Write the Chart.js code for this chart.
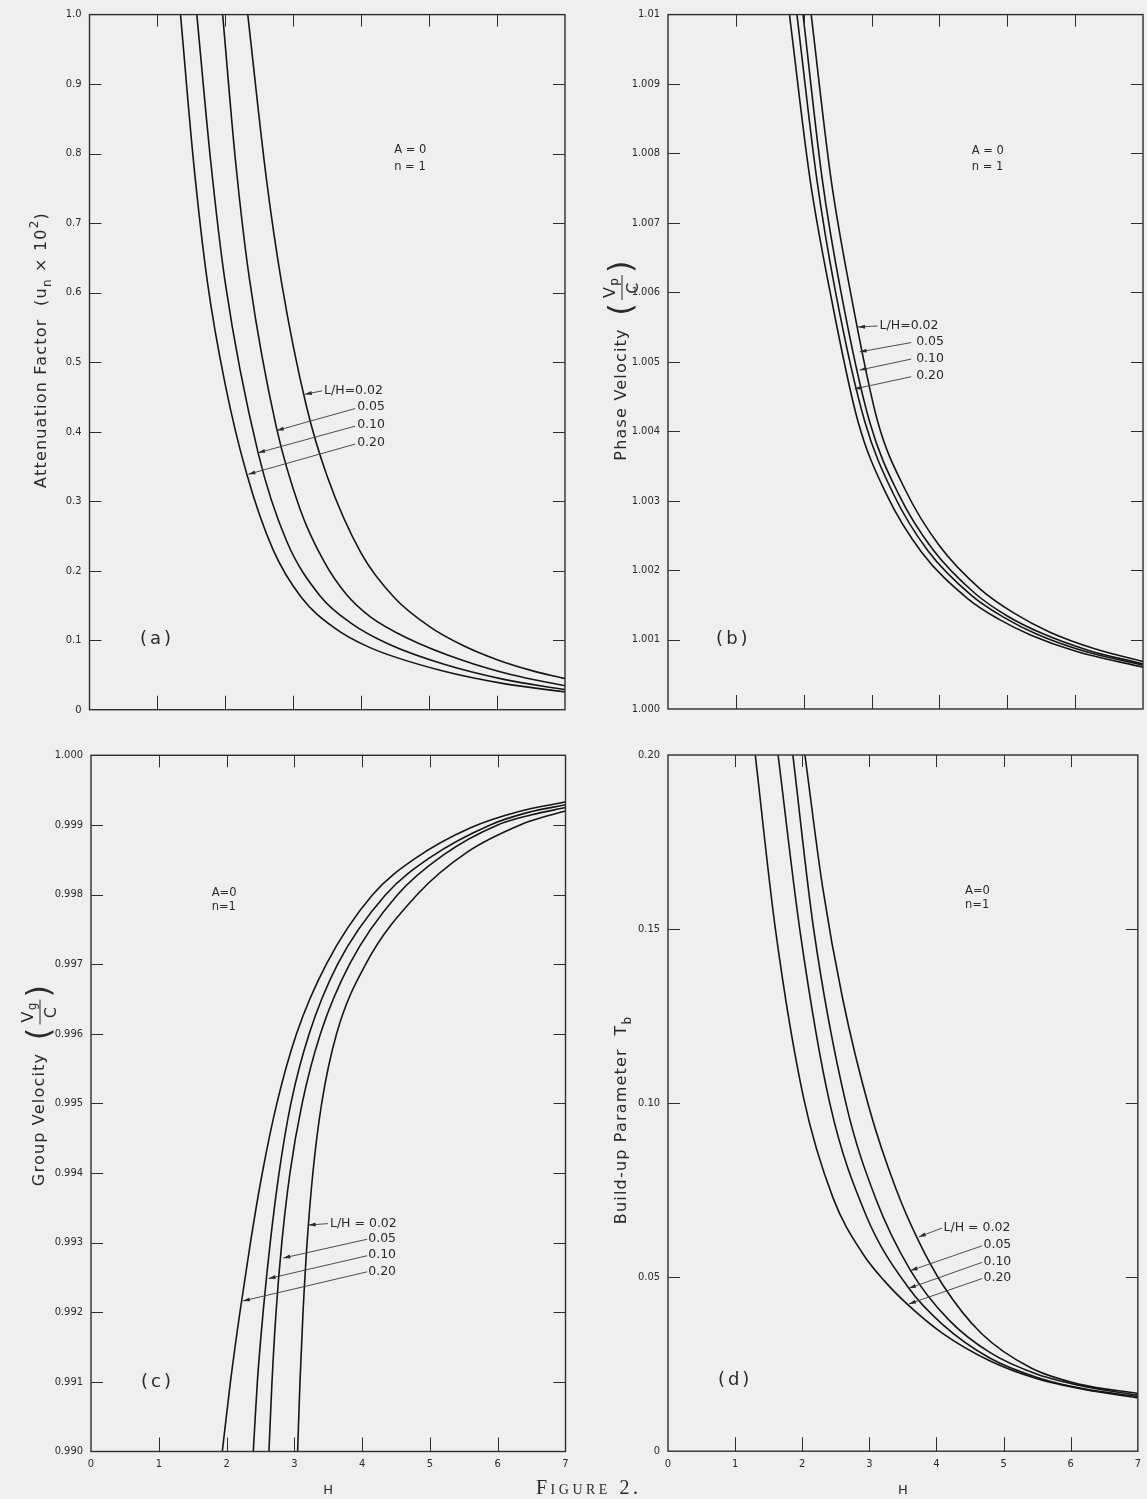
<!DOCTYPE html>
<html>
<head>
<meta charset="utf-8">
<script src="https://cdn.jsdelivr.net/npm/chart.js@4.4.1/dist/chart.umd.min.js"></script>
<style>
  html, body { margin: 0; padding: 0; background: #efefef; overflow: hidden; }
  body { width: 1147px; height: 1499px; position: relative; }
  canvas { position: absolute; }
  #a { left: 0; top: 0; }
  #b { left: 580px; top: 0; }
  #c { left: 0; top: 740px; }
  #d { left: 580px; top: 740px; }
  #fig { position: absolute; left: 536px; top: 1476px; font: 20px 'Liberation Serif', serif;
         font-variant: small-caps; letter-spacing: 3.5px; color: #2a2a2a; }
</style>
</head>
<body>
<canvas id="a" width="580" height="740"></canvas>
<canvas id="b" width="567" height="740"></canvas>
<canvas id="c" width="580" height="759"></canvas>
<canvas id="d" width="567" height="759"></canvas>
<div id="fig">Figure 2.</div>
<script>
// series order everywhere: L/H = 0.02, 0.05, 0.10, 0.20
const lhLabels = ['0.02', '0.05', '0.10', '0.20'];

const hTicks = [0, 1, 2, 3, 4, 5, 6, 7];
const hTickLabels = ['0', '1', '2', '3', '4', '5', '6', '7'];

// (a) attenuation factor
const attenTicks = [0, 0.1, 0.2, 0.3, 0.4, 0.5, 0.6, 0.7, 0.8, 0.9, 1.0];
const attenTickLabels = ['0', '0.1', '0.2', '0.3', '0.4', '0.5', '0.6', '0.7', '0.8', '0.9', '1.0'];
const attenH = [
  [2.33, 2.60, 2.83, 3.19, 3.50, 4.00, 4.50, 5.00, 5.50, 6.00, 6.50, 7.00],
  [1.96, 2.15, 2.354, 2.747, 3.10, 3.45, 3.78, 4.13, 4.675, 5.49, 6.20, 7.00],
  [1.58, 1.78, 1.996, 2.486, 2.90, 3.395, 3.86, 4.40, 5.22, 6.10, 7.00],
  [1.34, 1.53, 1.735, 2.00, 2.315, 2.70, 3.12, 3.59, 4.13, 5.22, 6.10, 7.00]
];
const attenV = [
  [1.0, 0.767, 0.613, 0.438, 0.3355, 0.225, 0.160, 0.120, 0.0924, 0.072, 0.0566, 0.0448],
  [1.0, 0.789, 0.620, 0.408, 0.2885, 0.2136, 0.166, 0.134, 0.1032, 0.071, 0.0505, 0.0345],
  [1.0, 0.793, 0.616, 0.368, 0.243, 0.1637, 0.1238, 0.0945, 0.0653, 0.0436, 0.0288],
  [1.0, 0.79, 0.616, 0.467, 0.339, 0.2306, 0.1614, 0.1188, 0.0893, 0.0552, 0.0375, 0.0255]
];

// (b) phase velocity
const phaseTicks = [1.000, 1.001, 1.002, 1.003, 1.004, 1.005, 1.006, 1.007, 1.008, 1.009, 1.010];
const phaseTickLabels = ['1.000', '1.001', '1.002', '1.003', '1.004', '1.005', '1.006', '1.007', '1.008', '1.009', '1.01'];
const phaseH = [
  [2.11, 2.40, 2.69, 3.09, 3.50, 4.00, 4.61, 5.10, 5.62, 6.30, 7.00],
  [1.99, 2.27, 2.55, 2.97, 3.40, 3.90, 4.53, 5.00, 5.51, 6.20, 7.00],
  [1.90, 2.19, 2.47, 2.90, 3.32, 3.83, 4.48, 4.95, 5.43, 6.10, 7.00],
  [1.79, 2.09, 2.39, 2.80, 3.22, 3.74, 4.42, 4.88, 5.35, 6.00, 7.00]
];
const phaseV = [
  [1.0100, 1.00765, 1.0060, 1.00414, 1.00315, 1.00235, 1.00172, 1.00138, 1.00111, 1.000864, 1.000685],
  [1.0100, 1.00765, 1.0060, 1.00414, 1.00309, 1.00230, 1.00166, 1.00134, 1.00109, 1.000844, 1.00065],
  [1.0100, 1.00765, 1.0060, 1.00414, 1.00310, 1.00228, 1.00163, 1.00132, 1.00108, 1.000843, 1.00063],
  [1.0100, 1.00765, 1.0060, 1.00414, 1.00309, 1.002255, 1.001587, 1.00129, 1.001063, 1.000835, 1.000602]
];

// (c) group velocity
const groupTicks = [0.990, 0.991, 0.992, 0.993, 0.994, 0.995, 0.996, 0.997, 0.998, 0.999, 1.000];
const groupTickLabels = ['0.990', '0.991', '0.992', '0.993', '0.994', '0.995', '0.996', '0.997', '0.998', '0.999', '1.000'];
const groupH = [
  [3.048, 3.083, 3.128, 3.188, 3.273, 3.403, 3.623, 4.053, 4.813, 5.55, 6.33, 6.70, 7.00],
  [2.625, 2.67, 2.73, 2.815, 2.935, 3.115, 3.385, 3.815, 4.525, 5.20, 6.00, 6.50, 7.00],
  [2.394, 2.454, 2.539, 2.644, 2.774, 2.949, 3.219, 3.639, 4.349, 5.00, 5.889, 6.45, 7.00],
  [1.937, 2.057, 2.197, 2.352, 2.527, 2.742, 3.032, 3.472, 4.157, 4.80, 5.60, 6.30, 7.00]
];
const groupV = [
  [0.990, 0.991, 0.992, 0.993, 0.994, 0.995, 0.996, 0.997, 0.998, 0.99861, 0.999, 0.99912, 0.99920],
  [0.990, 0.991, 0.992, 0.993, 0.994, 0.995, 0.996, 0.997, 0.998, 0.99857, 0.999, 0.999145, 0.99925],
  [0.990, 0.991, 0.992, 0.993, 0.994, 0.995, 0.996, 0.997, 0.998, 0.99853, 0.999, 0.99918, 0.99929],
  [0.990, 0.991, 0.992, 0.993, 0.994, 0.995, 0.996, 0.997, 0.998, 0.99853, 0.99896, 0.99919, 0.99933]
];

// (d) build-up parameter
const buildTicks = [0, 0.05, 0.10, 0.15, 0.20];
const buildTickLabels = ['0', '0.05', '0.10', '0.15', '0.20'];
const buildH = [
  [2.04, 2.30, 2.60, 3.00, 3.40, 3.736, 4.10, 4.67, 5.41, 6.14, 7.00],
  [1.86, 2.17, 2.65, 3.10, 3.614, 4.18, 4.80, 5.50, 6.20, 7.00],
  [1.64, 1.97, 2.41, 2.95, 3.589, 4.08, 4.80, 5.50, 6.20, 7.00],
  [1.30, 1.60, 2.02, 2.46, 2.90, 3.22, 3.589, 4.08, 4.80, 5.50, 6.20, 7.00]
];
const buildV = [
  [0.20, 0.1625, 0.1302, 0.0984, 0.0752, 0.0603, 0.0476, 0.0338, 0.0239, 0.0192, 0.0166],
  [0.20, 0.15, 0.10, 0.0723, 0.0519, 0.0378, 0.0283, 0.0221, 0.0186, 0.0161],
  [0.20, 0.149, 0.10, 0.0678, 0.0468, 0.0366, 0.0267, 0.0212, 0.0179, 0.0157],
  [0.20, 0.15, 0.1015, 0.0727, 0.0568, 0.049, 0.0418, 0.034, 0.0259, 0.0208, 0.0177, 0.0153]
];

const narrow = "'Liberation Sans Narrow', 'DejaVu Sans Condensed', 'Liberation Sans', sans-serif";
const letter = "'DejaVu Sans', 'Liberation Sans', sans-serif";
const ink = '#2a2a2a';

// annotations, placed in data units (h, v) so they ride on the scales
const notes = {
  a: {
    title: { x: 42, y: 350, segs: [['Attenuation Factor  (u', ''], ['n', 'sub'], [' \u00d7 10', ''], ['2', 'sup'], [')', '']] },
    texts: [
      { h: 4.485, v: 0.805, s: 'A = 0', size: 11.5 }, { h: 4.485, v: 0.781, s: 'n = 1', size: 11.5 },
      { h: 0.994, v: 0.101, s: '(a)', size: 18, align: 'center', spacing: 3 },
      { h: 3.453, v: 0.4595, s: 'L/H=0.02' }, { h: 3.94, v: 0.4361, s: '0.05' },
      { h: 3.94, v: 0.4103, s: '0.10' }, { h: 3.94, v: 0.384, s: '0.20' }
    ],
    arrows: [[3.424, 0.4587, 3.17, 0.4537], [3.91, 0.4332, 2.757, 0.4017],
             [3.91, 0.4079, 2.482, 0.3696], [3.91, 0.3821, 2.339, 0.3387]]
  },
  b: {
    title: { x: 42, y: 360, segs: [['Phase Velocity  ', ''], ['V|p|C', 'frac']] },
    texts: [
      { h: 4.476, v: 1.008042, s: 'A = 0', size: 11.5 }, { h: 4.476, v: 1.007804, s: 'n = 1', size: 11.5 },
      { h: 0.963, v: 1.000999, s: '(b)', size: 18, align: 'center', spacing: 3 },
      { h: 3.118, v: 1.005526, s: 'L/H=0.02' }, { h: 3.657, v: 1.005287, s: '0.05' },
      { h: 3.657, v: 1.005047, s: '0.10' }, { h: 3.657, v: 1.0048, s: '0.20' }
    ],
    arrows: [[3.088, 1.005516, 2.80, 1.005501], [3.584, 1.005277, 2.824, 1.005143],
             [3.584, 1.005039, 2.824, 1.004881], [3.584, 1.004785, 2.75, 1.004609]]
  },
  c: {
    title: { x: 40, y: 345, segs: [['Group Velocity  ', ''], ['V|g|C', 'frac']] },
    texts: [
      { h: 1.78, v: 0.998022, s: 'A=0', size: 11.5 }, { h: 1.78, v: 0.997826, s: 'n=1', size: 11.5 },
      { h: 0.98, v: 0.991, s: '(c)', size: 18, align: 'center', spacing: 3 },
      { h: 3.525, v: 0.993273, s: 'L/H = 0.02' }, { h: 4.09, v: 0.993049, s: '0.05' },
      { h: 4.09, v: 0.992823, s: '0.10' }, { h: 4.09, v: 0.992581, s: '0.20' }
    ],
    arrows: [[3.496, 0.993273, 3.21, 0.993253], [4.075, 0.993049, 2.836, 0.992779],
             [4.075, 0.992812, 2.62, 0.992484], [4.075, 0.992581, 2.24, 0.992162]]
  },
  d: {
    title: { x: 42, y: 380, segs: [['Build-up Parameter  T', ''], ['b', 'sub']] },
    texts: [
      { h: 4.425, v: 0.1609, s: 'A=0', size: 11.5 }, { h: 4.425, v: 0.1568, s: 'n=1', size: 11.5 },
      { h: 1.0, v: 0.02025, s: '(d)', size: 18, align: 'center', spacing: 3 },
      { h: 4.105, v: 0.0641, s: 'L/H = 0.02' }, { h: 4.70, v: 0.0592, s: '0.05' },
      { h: 4.70, v: 0.0545, s: '0.10' }, { h: 4.70, v: 0.0497, s: '0.20' }
    ],
    arrows: [[4.081, 0.0641, 3.736, 0.06155], [4.68, 0.0590, 3.614, 0.0519],
             [4.68, 0.05425, 3.589, 0.0468], [4.68, 0.0496, 3.589, 0.0423]]
  }
};

function line(ctx, x1, y1, x2, y2) {
  ctx.beginPath();
  ctx.moveTo(x1, y1);
  ctx.lineTo(x2, y2);
  ctx.stroke();
}

// rotated y-axis title with sub/superscripts and a stacked fraction
function drawTitle(ctx, t) {
  const size = 16;
  const base = size + 'px ' + letter;
  const small = Math.round(size * 0.72) + 'px ' + letter;
  const big = Math.round(size * 2.0) + 'px ' + letter;
  ctx.save();
  ctx.letterSpacing = '1.2px';
  const parts = t.segs.map(([s, k]) => {
    if (k === 'frac') {
      const [n, ns, d] = s.split('|');
      ctx.font = base;
      const nw = ctx.measureText(n).width, dw = ctx.measureText(d).width;
      ctx.font = small;
      const nsw = ctx.measureText(ns).width;
      ctx.font = big;
      const pw = ctx.measureText('(').width;
      const inner = Math.max(nw + nsw, dw) + 8;
      return { s, k, n, ns, d, nw, nsw, dw, pw, inner, w: pw * 2 + inner };
    }
    ctx.font = k ? small : base;
    return { s, k, w: ctx.measureText(s).width };
  });
  const total = parts.reduce((acc, p) => acc + p.w, 0);
  ctx.translate(t.x, t.y);
  ctx.rotate(-Math.PI / 2);
  ctx.fillStyle = ink;
  ctx.strokeStyle = ink;
  ctx.textBaseline = 'middle';
  ctx.textAlign = 'left';
  let x = -total / 2;
  parts.forEach(p => {
    if (p.k === 'frac') {
      ctx.font = big;
      ctx.fillText('(', x, 1);
      const ix = x + p.pw;
      ctx.font = base;
      const nx = ix + (p.inner - p.nw - p.nsw) / 2;
      ctx.fillText(p.n, nx, -size * 0.7);
      ctx.font = small;
      ctx.fillText(p.ns, nx + p.nw, -size * 0.45);
      ctx.font = base;
      ctx.fillText(p.d, ix + (p.inner - p.dw) / 2, size * 0.75);
      ctx.lineWidth = 1;
      line(ctx, ix + 2, 0, ix + p.inner - 2, 0);
      ctx.font = big;
      ctx.fillText(')', ix + p.inner, 1);
    } else if (p.k === 'sub') {
      ctx.font = small;
      ctx.fillText(p.s, x, size * 0.35);
    } else if (p.k === 'sup') {
      ctx.font = small;
      ctx.fillText(p.s, x, -size * 0.45);
    } else {
      ctx.font = base;
      ctx.fillText(p.s, x, 0);
    }
    x += p.w;
  });
  ctx.restore();
}

const framePlugin = {
  id: 'frame',
  afterDraw(chart) {
    const n = notes[chart.canvas.id];
    const { ctx, chartArea: a } = chart;
    const xs = chart.scales.x, ys = chart.scales.y;
    ctx.save();
    ctx.strokeStyle = '#2e2e2e';
    ctx.lineWidth = 1.4;
    ctx.strokeRect(a.left, a.top, a.right - a.left, a.bottom - a.top);

    // inward tick marks on all four sides
    ctx.lineWidth = 1;
    xs.ticks.forEach((t, i) => {
      if (i === 0 || i === xs.ticks.length - 1) return;
      const px = Math.round(xs.getPixelForValue(t.value)) + 0.5;
      line(ctx, px, a.bottom, px, a.bottom - 14);
      line(ctx, px, a.top, px, a.top + 12);
    });
    ys.ticks.forEach((t, i) => {
      if (i === 0 || i === ys.ticks.length - 1) return;
      const py = Math.round(ys.getPixelForValue(t.value)) + 0.5;
      line(ctx, a.left, py, a.left + 12, py);
      line(ctx, a.right, py, a.right - 12, py);
    });

    // labels
    ctx.fillStyle = ink;
    ctx.textBaseline = 'middle';
    n.texts.forEach(t => {
      ctx.font = (t.size || 12.5) + 'px ' + letter;
      ctx.textAlign = t.align || 'left';
      ctx.letterSpacing = (t.spacing || 0) + 'px';
      ctx.fillText(t.s, xs.getPixelForValue(t.h), ys.getPixelForValue(t.v));
    });
    ctx.letterSpacing = '0px';

    // leader lines with arrow heads
    ctx.strokeStyle = '#3a3a3a';
    ctx.fillStyle = '#2a2a2a';
    ctx.lineWidth = 0.9;
    n.arrows.forEach(([h1, v1, h2, v2]) => {
      const x1 = xs.getPixelForValue(h1), y1 = ys.getPixelForValue(v1);
      const x2 = xs.getPixelForValue(h2), y2 = ys.getPixelForValue(v2);
      line(ctx, x1, y1, x2, y2);
      const ang = Math.atan2(y2 - y1, x2 - x1);
      const c = Math.cos(ang), s = Math.sin(ang);
      ctx.beginPath();
      ctx.moveTo(x2, y2);
      ctx.lineTo(x2 - 7 * c + 2 * s, y2 - 7 * s - 2 * c);
      ctx.lineTo(x2 - 7 * c - 2 * s, y2 - 7 * s + 2 * c);
      ctx.closePath();
      ctx.fill();
    });

    drawTitle(ctx, n.title);
    ctx.restore();
  }
};

Chart.register(framePlugin);

function makePanel(id, p) {
  const datasets = p.h.map((hs, i) => ({
    label: 'L/H = ' + lhLabels[i],
    data: hs.map((h, j) => ({ x: h, y: p.v[i][j] })),
    borderColor: '#151515',
    borderWidth: 1.6,
    pointRadius: 0,
    cubicInterpolationMode: 'monotone',
    fill: false
  }));

  return new Chart(document.getElementById(id), {
    type: 'line',
    data: { datasets },
    options: {
      responsive: false,
      animation: false,
      events: [],
      layout: { padding: { top: p.padTop, right: p.padRight, left: 0, bottom: 0 } },
      plugins: { legend: { display: false }, tooltip: { enabled: false } },
      scales: {
        x: {
          type: 'linear',
          min: 0,
          max: 7,
          afterBuildTicks: s => { s.ticks = hTicks.map(v => ({ value: v })); },
          afterFit: s => { s.height = p.xHeight; },
          grid: { display: false, drawTicks: false },
          border: { display: false },
          ticks: {
            display: p.showX,
            padding: 6,
            color: ink,
            font: { family: narrow, size: 11 },
            maxRotation: 0,
            callback: (v, i) => hTickLabels[i]
          },
          title: {
            display: p.showX,
            text: 'H',
            color: ink,
            font: { family: letter, size: 13 },
            padding: { top: 0, bottom: 1 }
          }
        },
        y: {
          type: 'linear',
          min: p.yTicks[0],
          max: p.yTicks[p.yTicks.length - 1],
          afterBuildTicks: s => { s.ticks = p.yTicks.map(v => ({ value: v })); },
          afterFit: s => { s.width = p.yWidth; },
          grid: { display: false, drawTicks: false },
          border: { display: false },
          ticks: {
            padding: 8,
            color: ink,
            font: { family: narrow, size: 11 },
            autoSkip: false,
            callback: (v, i) => p.yLabels[i]
          }
        }
      }
    }
  });
}

makePanel('a', { h: attenH, v: attenV, yTicks: attenTicks, yLabels: attenTickLabels,
  yWidth: 89.5, padTop: 11.5, padRight: 15, xHeight: 30.3, showX: false });
makePanel('b', { h: phaseH, v: phaseV, yTicks: phaseTicks, yLabels: phaseTickLabels,
  yWidth: 88, padTop: 11, padRight: 4, xHeight: 31, showX: false });
makePanel('c', { h: groupH, v: groupV, yTicks: groupTicks, yLabels: groupTickLabels,
  yWidth: 91, padTop: 15.3, padRight: 14.5, xHeight: 47.5, showX: true });
makePanel('d', { h: buildH, v: buildV, yTicks: buildTicks, yLabels: buildTickLabels,
  yWidth: 88, padTop: 15, padRight: 4.4, xHeight: 47.8, showX: true });
</script>
</body>
</html>
